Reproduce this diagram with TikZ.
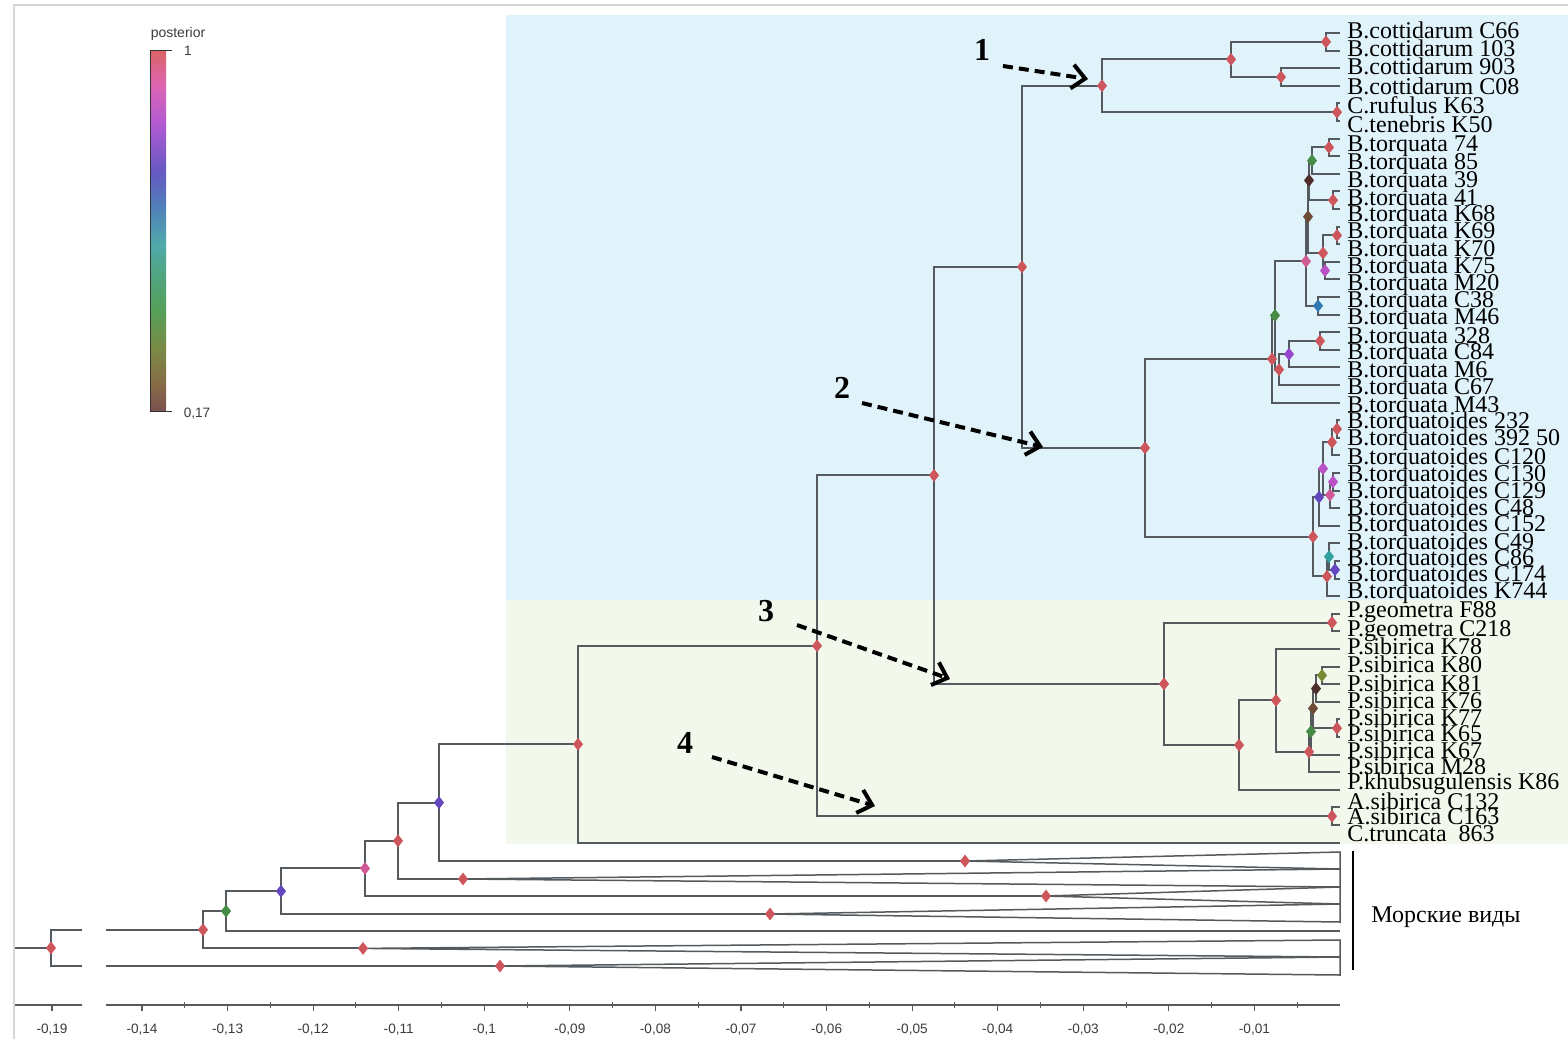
\documentclass[tikz,border=0pt]{standalone}
\usepackage{fontspec}
\setmainfont{Liberation Serif}
\newfontfamily\axfont{Liberation Sans}
\usetikzlibrary{shapes.geometric,arrows.meta}
\definecolor{branch}{RGB}{85,90,95}
\definecolor{cRed}{RGB}{204,86,92}
\definecolor{cPink}{RGB}{208,90,150}
\definecolor{cMag}{RGB}{185,80,195}
\definecolor{cPur}{RGB}{150,70,205}
\definecolor{cViol}{RGB}{100,70,190}
\definecolor{cBlue}{RGB}{50,120,180}
\definecolor{cTeal}{RGB}{50,160,160}
\definecolor{cGreen}{RGB}{70,140,70}
\definecolor{cOlive}{RGB}{120,140,50}
\definecolor{cDBrown}{RGB}{80,45,45}
\definecolor{cBrown}{RGB}{110,75,55}
\definecolor{bluepanel}{RGB}{225,243,250}
\definecolor{greenpanel}{RGB}{243,248,236}
\definecolor{framegray}{RGB}{215,215,215}
\definecolor{axisgray}{RGB}{90,90,90}
\definecolor{axistext}{RGB}{60,60,60}
\definecolor{sb0}{RGB}{125,80,80}
\definecolor{sb1}{RGB}{135,110,70}
\definecolor{sb2}{RGB}{120,140,70}
\definecolor{sb3}{RGB}{85,160,90}
\definecolor{sb4}{RGB}{80,165,130}
\definecolor{sb5}{RGB}{80,170,170}
\definecolor{sb6}{RGB}{80,130,185}
\definecolor{sb7}{RGB}{100,90,195}
\definecolor{sb8}{RGB}{180,90,210}
\definecolor{sb9}{RGB}{220,100,180}
\definecolor{sb10}{RGB}{220,100,100}
\pgfdeclareverticalshading{postshade}{100bp}{color(0bp)=(sb0); color(25bp)=(sb0); color(29bp)=(sb1); color(34bp)=(sb2); color(39bp)=(sb3); color(44bp)=(sb4); color(48bp)=(sb5); color(53bp)=(sb6); color(58bp)=(sb7); color(65bp)=(sb8); color(70bp)=(sb9); color(75bp)=(sb10); color(100bp)=(sb10)}
\begin{document}
\begin{tikzpicture}[x=0.5pt,y=-0.5pt,
  br/.style={draw=branch, line width=1pt},
  tri/.style={draw=branch, line width=0.75pt, line join=miter},
  dm/.style={diamond, fill=#1, draw=none, inner sep=0pt, aspect=0.8, minimum width=5.2pt, minimum height=6.6pt},
  lab/.style={anchor=base west, inner sep=0pt, font=\fontsize{12}{12}\selectfont},
  num/.style={font=\fontsize{16}{16}\selectfont\bfseries, inner sep=0pt},
  arr/.style={line width=2pt, dash pattern=on 5pt off 3pt, -{Straight Barb[length=6.5pt,width=12pt]}},
  ax/.style={draw=axisgray, line width=1pt},
  axl/.style={font=\axfont\fontsize{6.8}{7}\selectfont, text=axistext, inner sep=0pt}]
\useasboundingbox (0,0) rectangle (1568,1039);
\fill[white] (0,0) rectangle (1568,1039);
% panels
\fill[bluepanel] (506,15) rectangle (1568,600);
\fill[greenpanel] (506,600) rectangle (1568,844);
% frame
\draw[framegray, line width=0.6pt] (14,1039) -- (14,5) -- (1568,5);

% leaf tips
\foreach \i in {1,...,47} \coordinate (L\i) at (1340,{33+17.6*(\i-1)});
% internal nodes
\coordinate (c1) at (1326,41.8);
\coordinate (c2) at (1281,77);
\coordinate (c3) at (1231,59.4);
\coordinate (c4) at (1337,112.2);
\coordinate (c5) at (1102,85.8);
\coordinate (t1) at (1329,147.4);
\coordinate (t2) at (1312,160.6);
\coordinate (t3) at (1333,200.2);
\coordinate (t4) at (1309,180.4);
\coordinate (t5) at (1337,235.4);
\coordinate (t6) at (1325,270.6);
\coordinate (t7) at (1323,253);
\coordinate (t8) at (1308,216.7);
\coordinate (t9) at (1318,305.8);
\coordinate (t10) at (1306,261.25);
\coordinate (t11) at (1320,341);
\coordinate (t12) at (1289,354.2);
\coordinate (t13) at (1279,369.6);
\coordinate (t14) at (1275,315.4);
\coordinate (t15) at (1272,359);
\coordinate (d1) at (1337,429);
\coordinate (d2) at (1332,442.2);
\coordinate (d3) at (1333,481.8);
\coordinate (d4) at (1330,495);
\coordinate (d5) at (1323,468.6);
\coordinate (d6) at (1319,497.2);
\coordinate (d7) at (1335,569.8);
\coordinate (d8) at (1329,556.6);
\coordinate (d9) at (1327,576.4);
\coordinate (d10) at (1313,536.8);
\coordinate (Tq) at (1145,447.9);
\coordinate (A2) at (1022,266.85);
\coordinate (p1) at (1332,622.6);
\coordinate (p2) at (1322,675.4);
\coordinate (p3) at (1316,688.6);
\coordinate (p4) at (1337,728.2);
\coordinate (p5) at (1313,708.4);
\coordinate (p6) at (1311,731.5);
\coordinate (p7) at (1309,751.85);
\coordinate (p8) at (1276,700.4);
\coordinate (p9) at (1239,745.1);
\coordinate (p10) at (1164,683.85);
\coordinate (A3) at (934,475.35);
\coordinate (a1) at (1332,816.2);
\coordinate (A4) at (817,645.8);
\coordinate (A5) at (578,744.2);
\coordinate (tr1) at (965,861);
\coordinate (A6) at (439,802.6);
\coordinate (tr2) at (463,879);
\coordinate (A7) at (398,840.8);
\coordinate (tr3) at (1046,896);
\coordinate (A8) at (365,868.4);
\coordinate (tr4) at (770,914);
\coordinate (A9) at (281,891.2);
\coordinate (Lm) at (1340,931);
\coordinate (A10) at (226,911.1);
\coordinate (tr5) at (363,948.4);
\coordinate (A11) at (203,929.75);
\coordinate (tr6) at (500,966);
\coordinate (root) at (51,947.9);
\coordinate (stem) at (15,947.9);
\coordinate (bk1) at (82,929.75);
\coordinate (bk2) at (82,966);
\coordinate (bk3) at (106,929.75);
\coordinate (bk4) at (106,966);
% triangle edges
\coordinate (tr1a) at (1340,852); \coordinate (tr1b) at (1340,869);
\coordinate (tr2a) at (1340,869); \coordinate (tr2b) at (1340,887);
\coordinate (tr3a) at (1340,887); \coordinate (tr3b) at (1340,904);
\coordinate (tr4a) at (1340,904); \coordinate (tr4b) at (1340,922);
\coordinate (tr5a) at (1340,940); \coordinate (tr5b) at (1340,957);
\coordinate (tr6a) at (1340,957); \coordinate (tr6b) at (1340,975);

% branches
\draw[br] (L1) -| (c1) |- (L2);
\draw[br] (L3) -| (c2) |- (L4);
\draw[br] (c1) -| (c3) |- (c2);
\draw[br] (L5) -| (c4) |- (L6);
\draw[br] (c3) -| (c5) |- (c4);
\draw[br] (L7) -| (t1) |- (L8);
\draw[br] (t1) -| (t2) |- (L9);
\draw[br] (L10) -| (t3) |- (L11);
\draw[br] (t2) -| (t4) |- (t3);
\draw[br] (L12) -| (t5) |- (L13);
\draw[br] (L14) -| (t6) |- (L15);
\draw[br] (t5) -| (t7) |- (t6);
\draw[br] (t4) -| (t8) |- (t7);
\draw[br] (L16) -| (t9) |- (L17);
\draw[br] (t8) -| (t10) |- (t9);
\draw[br] (L18) -| (t11) |- (L19);
\draw[br] (t11) -| (t12) |- (L20);
\draw[br] (t12) -| (t13) |- (L21);
\draw[br] (t10) -| (t14) |- (t13);
\draw[br] (t14) -| (t15) |- (L22);
\draw[br] (L23) -| (d1) |- (L24);
\draw[br] (d1) -| (d2) |- (L25);
\draw[br] (L26) -| (d3) |- (L27);
\draw[br] (d3) -| (d4) |- (L28);
\draw[br] (d2) -| (d5) |- (d4);
\draw[br] (d5) -| (d6) |- (L29);
\draw[br] (L31) -| (d7) |- (L32);
\draw[br] (L30) -| (d8) |- (d7);
\draw[br] (d8) -| (d9) |- (L33);
\draw[br] (d6) -| (d10) |- (d9);
\draw[br] (t15) -| (Tq) |- (d10);
\draw[br] (c5) -| (A2) |- (Tq);
\draw[br] (L34) -| (p1) |- (L35);
\draw[br] (L37) -| (p2) |- (L38);
\draw[br] (p2) -| (p3) |- (L39);
\draw[br] (L40) -| (p4) |- (L41);
\draw[br] (p3) -| (p5) |- (p4);
\draw[br] (p5) -| (p6) |- (L42);
\draw[br] (p6) -| (p7) |- (L43);
\draw[br] (L36) -| (p8) |- (p7);
\draw[br] (p8) -| (p9) |- (L44);
\draw[br] (p1) -| (p10) |- (p9);
\draw[br] (A2) -| (A3) |- (p10);
\draw[br] (L45) -| (a1) |- (L46);
\draw[br] (A3) -| (A4) |- (a1);
\draw[br] (A4) -| (A5) |- (L47);
\draw[br] (A5) -| (A6) |- (tr1);
\draw[br] (A6) -| (A7) |- (tr2);
\draw[br] (A7) -| (A8) |- (tr3);
\draw[br] (A8) -| (A9) |- (tr4);
\draw[br] (A9) -| (A10) |- (Lm);
\draw[br] (A10) -| (A11) |- (tr5);
\draw[br] (bk1) -| (root) |- (bk2);
\draw[br] (bk3) -- (A11);
\draw[br] (bk4) -- (tr6);
\draw[br] (stem) -- (root);
% collapsed clades
\foreach \t in {tr1,tr2,tr3,tr4,tr5,tr6}
  \draw[tri] (\t) -- (\t a) -- (\t b) -- cycle;

% node markers
\foreach \n/\c in {c1/cRed,c2/cRed,c3/cRed,c4/cRed,c5/cRed,t1/cRed,t2/cGreen,t3/cRed,t4/cDBrown,t5/cRed,t6/cMag,t7/cRed,t8/cBrown,t9/cBlue,t10/cPink,t11/cRed,t12/cPur,t13/cRed,t14/cGreen,t15/cRed,d1/cRed,d2/cRed,d3/cMag,d4/cPink,d5/cMag,d6/cViol,d7/cViol,d8/cTeal,d9/cRed,d10/cRed,Tq/cRed,A2/cRed,p1/cRed,p2/cOlive,p3/cDBrown,p4/cRed,p5/cBrown,p6/cGreen,p7/cRed,p8/cRed,p9/cRed,p10/cRed,A3/cRed,a1/cRed,A4/cRed,A5/cRed,tr1/cRed,A6/cViol,tr2/cRed,A7/cRed,tr3/cRed,A8/cPink,tr4/cRed,A9/cViol,A10/cGreen,tr5/cRed,A11/cRed,tr6/cRed,root/cRed}
  \node[dm=\c] (\n-m) at (\n) {};

% leaf labels (baseline positions)
\foreach \i/\yy/\t in {1/38/B.cottidarum C66,2/56/B.cottidarum 103,3/74/B.cottidarum 903,4/94/B.cottidarum C08,5/113/C.rufulus K63,6/132/C.tenebris K50,7/151/B.torquata 74,8/169/B.torquata 85,9/187/B.torquata 39,10/205/B.torquata 41,11/221/B.torquata K68,12/238/B.torquata K69,13/256/B.torquata K70,14/273/B.torquata K75,15/290/B.torquata M20,16/307/B.torquata C38,17/324/B.torquata M46,18/343/B.torquata 328,19/359/B.torquata C84,20/377/B.torquata M6,21/394/B.torquata C67,22/412/B.torquata M43,23/428/B.torquatoides 232,24/445/B.torquatoides 392 50,25/464/B.torquatoides C120,26/481/B.torquatoides C130,27/498/B.torquatoides C129,28/515/B.torquatoides C48,29/531/B.torquatoides C152,30/549/B.torquatoides C49,31/565/B.torquatoides C86,32/581/B.torquatoides C174,33/598/B.torquatoides K744,34/617/P.geometra F88,35/636/P.geometra C218,36/654/P.sibirica K78,37/672/P.sibirica K80,38/691/P.sibirica K81,39/708/P.sibirica K76,40/725/P.sibirica K77,41/741/P.sibirica K65,42/758/P.sibirica K67,43/774/P.sibirica M28,44/789/P.khubsugulensis K86,45/809/A.sibirica C132,46/824/A.sibirica C163,47/841/C.truncata\ \ 863}
  \node[lab] (n\i) at (1347,\yy) {\t};

% marine bracket
\coordinate (brT) at (1353,851);
\coordinate (brB) at (1353,970);
\draw[black, line width=0.9pt] (brT) -- (brB);
\node[font=\fontsize{12}{12}\selectfont, inner sep=0pt] (marine) at (1446,917) {Морские виды};

% annotation arrows
\node[num] (k1) at (982,50) {1};
\coordinate (k1s) at (1003,66); \coordinate (k1e) at (1088,79);
\draw[arr] (k1s) -- (k1e);
\node[num] (k2) at (842,388) {2};
\coordinate (k2s) at (862,403); \coordinate (k2e) at (1043,447);
\draw[arr] (k2s) -- (k2e);
\node[num] (k3) at (766,611) {3};
\coordinate (k3s) at (797,625); \coordinate (k3e) at (950,679);
\draw[arr] (k3s) -- (k3e);
\node[num] (k4) at (685,743) {4};
\coordinate (k4s) at (712,757); \coordinate (k4e) at (875,806);
\draw[arr] (k4s) -- (k4e);

% posterior colour bar
\shade[shading=postshade] (150,50) rectangle (166,411);
\draw[black!80, line width=0.5pt] (172,50) -- (150,50) -- (150,411) -- (172,411);
\node[axl, font=\axfont\fontsize{7}{8}\selectfont] (post) at (178,34) {posterior};
\node[axl] (cb1) at (188,51) {1};
\node[axl] (cb0) at (197,414) {0,17};

% time axis
\draw[ax] (15,1005) -- (82,1005);
\draw[ax] (106,1005) -- (1340,1005);
\draw[ax, line width=0.6pt] (52,1005) -- (52,1011);
\node[axl] (tl19) at (52,1030) {-0,19};
\foreach \k/\t in {1/{-0,01},2/{-0,02},3/{-0,03},4/{-0,04},5/{-0,05},6/{-0,06},7/{-0,07},8/{-0,08},9/{-0,09},10/{-0,1},11/{-0,11},12/{-0,12},13/{-0,13},14/{-0,14}}{
  \draw[ax, line width=0.6pt] ({1340-85.57*\k},1005) -- ({1340-85.57*\k},1011);
  \node[axl] (tl\k) at ({1340-85.57*\k},1030) {\t};
}
\foreach \k in {0.5,1.5,...,13.5}
  \draw[ax, line width=0.5pt] ({1340-85.57*\k},1002) -- ({1340-85.57*\k},1008);
\end{tikzpicture}
\end{document}
